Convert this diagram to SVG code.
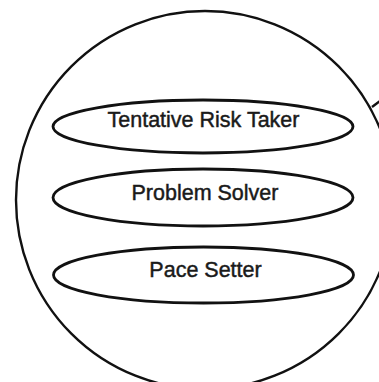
<svg xmlns="http://www.w3.org/2000/svg" width="379" height="382" viewBox="0 0 379 382">
<style>
.outer{fill:none;stroke:#111;stroke-width:2.4}
.ell{fill:none;stroke:#111;stroke-width:2.8}
.lbl{font-family:"Liberation Sans",Arial,sans-serif;font-size:21.5px;fill:#1a1a1a;stroke:#1a1a1a;stroke-width:0.45;text-anchor:middle}
</style>
<rect width="379" height="382" fill="#fff"/>
<g id="sphere"><circle class="outer" cx="205" cy="200" r="189"/></g>
<g id="connectors"><path class="outer" d="M372 107 L380 101"/></g>
<g id="n1"><ellipse class="ell" cx="203" cy="126.5" rx="150" ry="26.5"/><text class="lbl" x="203.5" y="127">Tentative Risk Taker</text></g>
<g id="n2"><ellipse class="ell" cx="203" cy="197.5" rx="150" ry="28.5"/><text class="lbl" x="205" y="199.5">Problem Solver</text></g>
<g id="n3"><ellipse class="ell" cx="203.5" cy="275" rx="150" ry="28"/><text class="lbl" x="205.5" y="277">Pace Setter</text></g>
</svg>
